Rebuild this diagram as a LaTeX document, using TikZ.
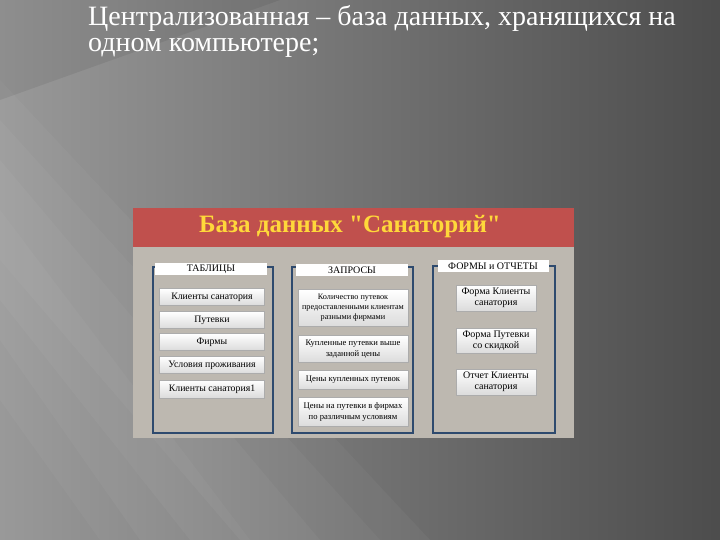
\documentclass[tikz,border=0pt]{standalone}
\usepackage{fontspec}
\setmainfont{Liberation Serif}
\newfontfamily\titlefont[Ligatures=TeXOff]{Liberation Serif}
\usetikzlibrary{positioning}
\definecolor{panel}{HTML}{BDB8B0}
\definecolor{banner}{HTML}{C0504D}
\definecolor{frame}{HTML}{2E4A6E}
\definecolor{ttl}{HTML}{FFD83A}
\tikzset{
  colframe/.style={draw=frame, line width=2.8pt},
  hdr/.style={fill=white, inner sep=0pt, font=\fontsize{10}{11}\selectfont},
  btn/.style={draw=gray!65, line width=0.8pt, top color=white, bottom color=gray!28,
    inner sep=0pt, align=center, font=\fontsize{9.8}{11}\selectfont},
}
\begin{document}
\begin{tikzpicture}[x=1pt,y=-1pt]
\useasboundingbox (0,0) rectangle (720,540);
% background
\shade[left color=black!40, right color=black!70] (0,0) rectangle (720,540);
\fill[white, opacity=0.035] (0,80) -- (0,260) -- (240,540) -- (430,540) -- cycle;
\fill[white, opacity=0.035] (0,120) -- (0,300) -- (190,540) -- (380,540) -- cycle;
\fill[white, opacity=0.035] (0,160) -- (0,340) -- (140,540) -- (320,540) -- cycle;
\fill[white, opacity=0.03] (0,210) -- (0,400) -- (100,540) -- (250,540) -- cycle;
\fill[black, opacity=0.07] (0,0) -- (280,0) -- (0,100) -- cycle;
% heading text
\node[anchor=base west, text=white, font=\fontsize{28}{26}\selectfont, inner sep=0pt, align=left]
  (t1) at (88,52) {Централизованная – база данных, хранящихся на\\одном компьютере;};
% panel
\fill[panel] (133,208) rectangle (574,438);
\fill[banner] (133,208) rectangle (574,247);
\node[text=ttl, font=\titlefont\bfseries\fontsize{25}{27}\selectfont] (title) at (350,227) {База данных "Санаторий"};
% column frames
\draw[colframe] (153,267) rectangle (273,433);
\draw[colframe] (292,267) rectangle (413,433);
\draw[colframe] (433,266) rectangle (555,433);
% headers
\node[hdr, minimum width=112, minimum height=12] (h1) at (211,269) {ТАБЛИЦЫ};
\node[hdr, minimum width=112, minimum height=12] (h2) at (352,270) {ЗАПРОСЫ};
\node[hdr, minimum width=111, minimum height=12] (h3) at (493,266) {ФОРМЫ и ОТЧЕТЫ};
% column 1 buttons
\node[btn, minimum width=105, minimum height=17] (a1) at (212,297) {Клиенты санатория};
\node[btn, minimum width=105, minimum height=17] (a2) at (212,320) {Путевки};
\node[btn, minimum width=105, minimum height=17] (a3) at (212,342) {Фирмы};
\node[btn, minimum width=105, minimum height=17] (a4) at (212,365) {Условия проживания};
\node[btn, minimum width=105, minimum height=18] (a5) at (212,389) {Клиенты санатория1};
% column 2 buttons
\node[btn, minimum width=110, minimum height=37, font=\fontsize{8.2}{10}\selectfont] (b1) at (353,308)
  {Количество путевок\\предоставленными клиентам\\разными фирмами};
\node[btn, minimum width=110, minimum height=27, font=\fontsize{8.6}{11}\selectfont] (b2) at (353,349)
  {Купленные путевки выше\\заданной цены};
\node[btn, minimum width=110, minimum height=19, font=\fontsize{8.6}{11}\selectfont] (b3) at (353,380)
  {Цены купленных путевок};
\node[btn, minimum width=110, minimum height=29, font=\fontsize{8.6}{11}\selectfont] (b4) at (353,412)
  {Цены на путевки в фирмах\\по различным условиям};
% column 3 buttons
\node[btn, minimum width=80, minimum height=26, font=\fontsize{10}{11}\selectfont] (c1) at (496,298)
  {Форма Клиенты\\санатория};
\node[btn, minimum width=80, minimum height=25, font=\fontsize{10}{11}\selectfont] (c2) at (496,341)
  {Форма Путевки\\со скидкой};
\node[btn, minimum width=80, minimum height=26, font=\fontsize{10}{11}\selectfont] (c3) at (496,382)
  {Отчет Клиенты\\санатория};
\end{tikzpicture}
\end{document}
